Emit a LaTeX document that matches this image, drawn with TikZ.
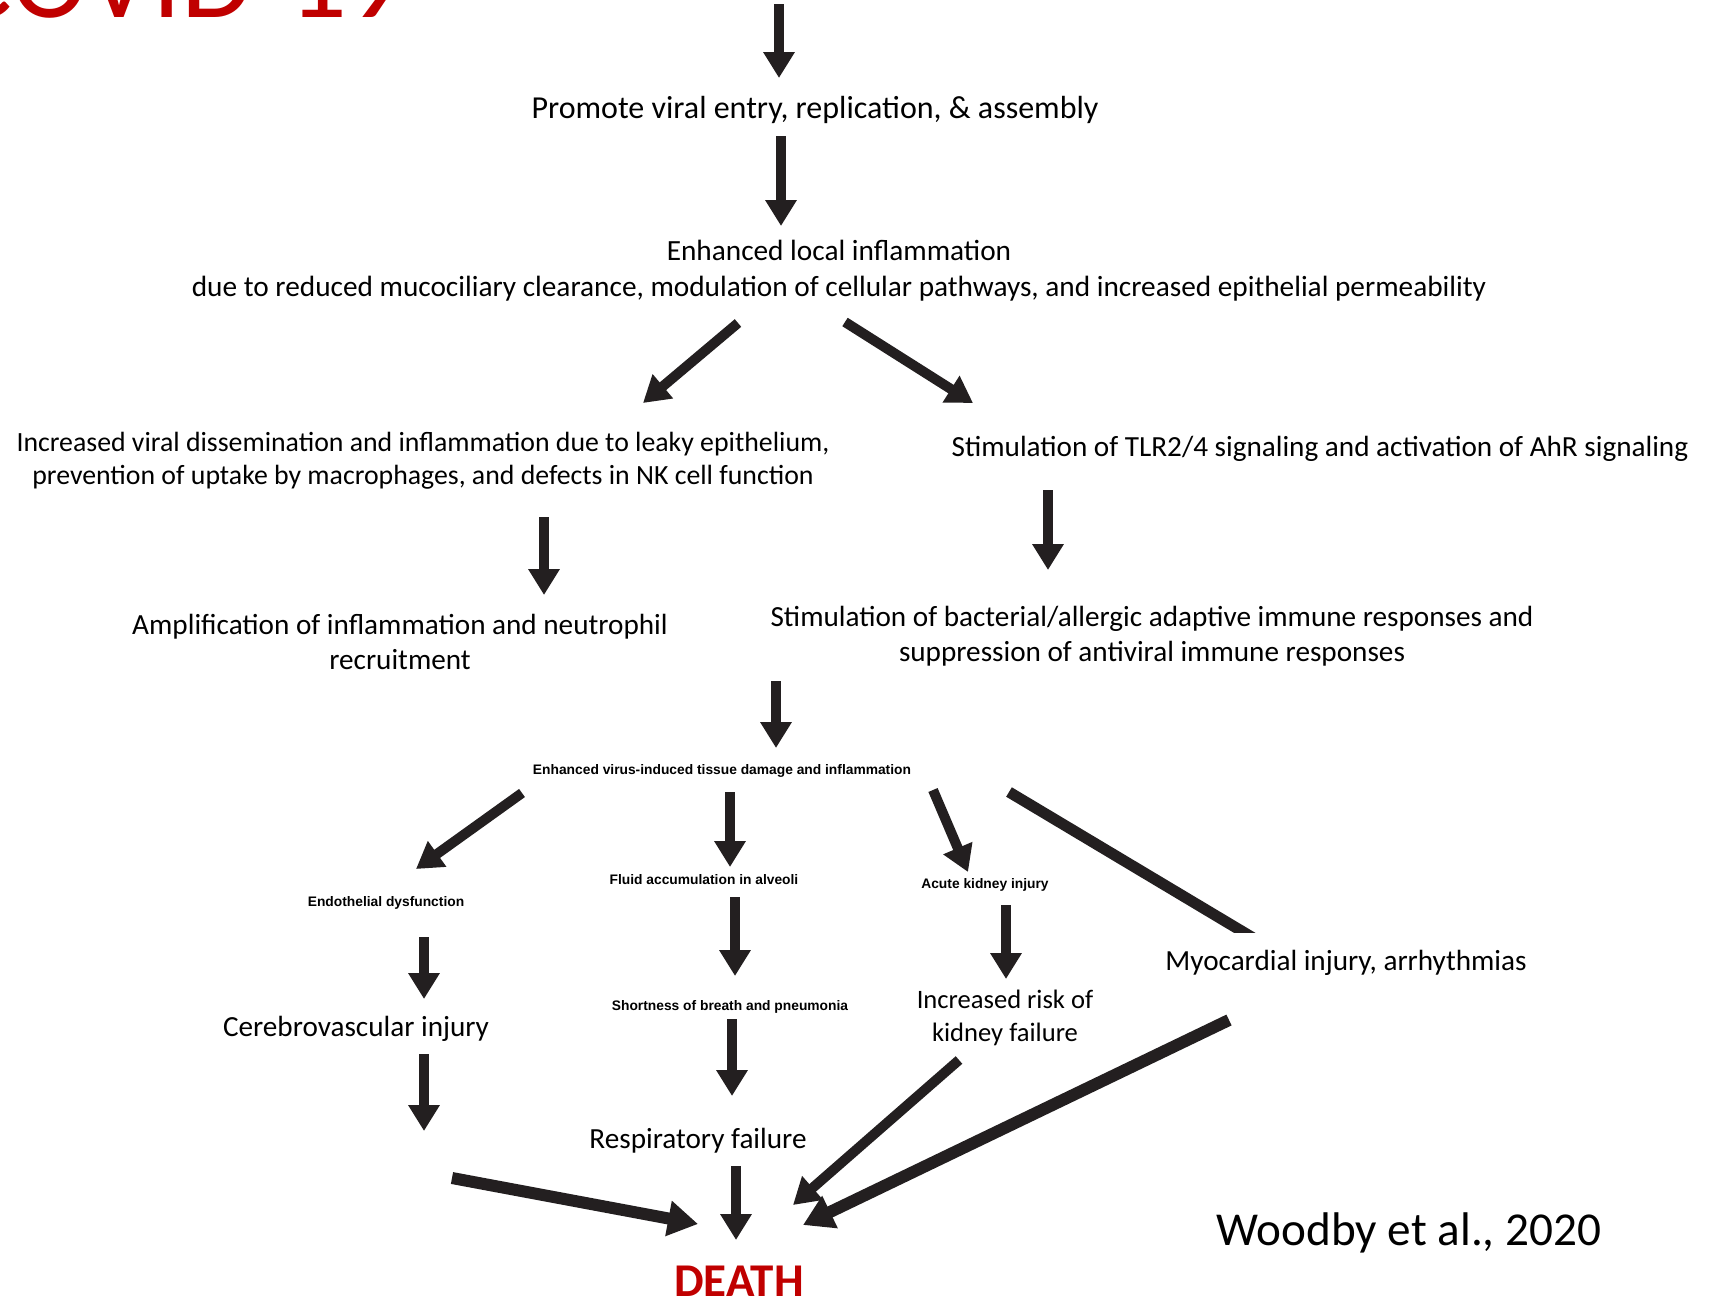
\documentclass[tikz,border=0pt]{standalone}
\usepackage{fontspec}
\setmainfont{Carlito}
\newfontfamily\arialf{Liberation Sans}
\usetikzlibrary{arrows.meta}
\definecolor{ink}{HTML}{231F20}
\definecolor{slidered}{HTML}{C00000}
\tikzset{
  txt/.style={inner sep=0pt, align=center, font=\fontsize{14.6}{17.5}\selectfont},
  sml/.style={inner sep=0pt, font=\arialf\bfseries\fontsize{6.9}{8}\selectfont},
  arr/.style={draw=ink, line width=5pt, -{Triangle[width=15pt,length=13pt]}},
  arrbig/.style={draw=ink, line width=6pt, -{Triangle[width=17pt,length=15pt]}},
  bar/.style={draw=ink, line width=5.5pt},
}
\begin{document}
\begin{tikzpicture}[x=0.5pt,y=-0.5pt]
\fill[white] (0,0) rectangle (1709,1296);
\useasboundingbox (0,0) rectangle (1709,1296);

% title (cut off by the top edge)
\node[inner sep=0pt, anchor=base west, text=slidered, font=\fontsize{58}{62}\selectfont] (covid) at (-50,17) {COVID-19};

% nodes
\node[txt, anchor=base, font=\fontsize{16}{18}\selectfont] (promote) at (815,118) {Promote viral entry, replication, \& assembly};
\node[txt, font=\fontsize{14.65}{18}\selectfont] (enh) at (839,271) {Enhanced local inflammation\\due to reduced mucociliary clearance, modulation of cellular pathways, and increased epithelial permeability};
\node[txt, font=\fontsize{13.9}{16.4}\selectfont] (left) at (423,461) {Increased viral dissemination and inflammation due to leaky epithelium,\\prevention of uptake by macrophages, and defects in NK cell function};
\node[txt, anchor=base] (tlr) at (1320,456) {Stimulation of TLR2/4 signaling and activation of AhR signaling};
\node[txt] (ampl) at (400,642) {Amplification of inflammation and neutrophil\\recruitment};
\node[txt] (stim) at (1152,636) {Stimulation of bacterial/allergic adaptive immune responses and\\suppression of antiviral immune responses};
\node[sml, anchor=base] (tissue) at (722,774) {Enhanced virus-induced tissue damage and inflammation};
\node[sml, anchor=base] (endo) at (386,906) {Endothelial dysfunction};
\node[sml, anchor=base] (fluid) at (704,884) {Fluid accumulation in alveoli};
\node[sml, anchor=base] (aki) at (985,888) {Acute kidney injury};
\node[txt, anchor=base] (myo) at (1346,970) {Myocardial injury, arrhythmias};
\node[txt, anchor=base] (cereb) at (356,1036) {Cerebrovascular injury};
\node[sml, anchor=base] (sob) at (730,1010) {Shortness of breath and pneumonia};
\node[txt, font=\fontsize{13.3}{16.3}\selectfont] (ikf) at (1005,1018) {Increased risk of\\kidney failure};
\node[txt, anchor=base] (resp) at (698,1148) {Respiratory failure};
\node[inner sep=0pt, anchor=base, text=slidered, font=\bfseries\fontsize{23.5}{26}\selectfont] (death) at (739,1296) {DEATH};
\node[inner sep=0pt, anchor=base, font=\fontsize{23.6}{26}\selectfont] (woodby) at (1409,1245) {Woodby et al., 2020};

% free ends
\coordinate (topin) at (779,4);
\coordinate (cerebout) at (424,1131);
\coordinate (cerebin) at (452,1178);

% connectors
\draw[arr] (topin) -- ([shift={(-36,-40)}]promote.base);
\draw[arr] ([shift={(-34,18)}]promote.base) -- ([shift={(-58,-45)}]enh.center);
\draw[arr] ([shift={(-101,52)}]enh.center) -- ([shift={(220,-58)}]left.center);
\draw[arr] ([shift={(6,51)}]enh.center) -- ([shift={(-347,-53)}]tlr.base);
\draw[arr] ([shift={(121,56)}]left.center) -- ([shift={(144,-47)}]ampl.center);
\draw[arr] ([shift={(-272,34)}]tlr.base) -- ([shift={(-104,-66)}]stim.center);
\draw[arr] ([shift={(-376,45)}]stim.center) -- ([shift={(54,-26)}]tissue.base);
\draw[arr] ([shift={(-200,19)}]tissue.base) -- ([shift={(30,-37)}]endo.base);
\draw[arr] ([shift={(8,18)}]tissue.base) -- ([shift={(26,-17)}]fluid.base);
\draw[arr] ([shift={(211,16)}]tissue.base) -- ([shift={(-17,-16)}]aki.base);
\begin{scope}
  \clip (0,0) rectangle (1709,932);
  \draw[bar] ([shift={(287,18)}]tissue.base) -- ([shift={(-81,-25)}]myo.base);
\end{scope}
\draw[arr] ([shift={(38,31)}]endo.base) -- ([shift={(68,-37)}]cereb.base);
\draw[arr] ([shift={(31,13)}]fluid.base) -- ([shift={(5,-34)}]sob.base);
\draw[arr] ([shift={(21,17)}]aki.base) -- ([shift={(1,-39)}]ikf.center);
\draw[arr] ([shift={(68,18)}]cereb.base) -- (cerebout);
\draw[arrbig] (cerebin) -- ([shift={(-41,-72)}]death.base);
\draw[arr] ([shift={(2,9)}]sob.base) -- ([shift={(34,-52)}]resp.base);
\draw[arr] ([shift={(38,18)}]resp.base) -- ([shift={(-3,-56)}]death.base);
\draw[arr] ([shift={(-46,42)}]ikf.center) -- ([shift={(54,-91)}]death.base);
\draw[arrbig] ([shift={(-117,50)}]myo.base) -- ([shift={(64,-71)}]death.base);
\end{tikzpicture}
\end{document}
